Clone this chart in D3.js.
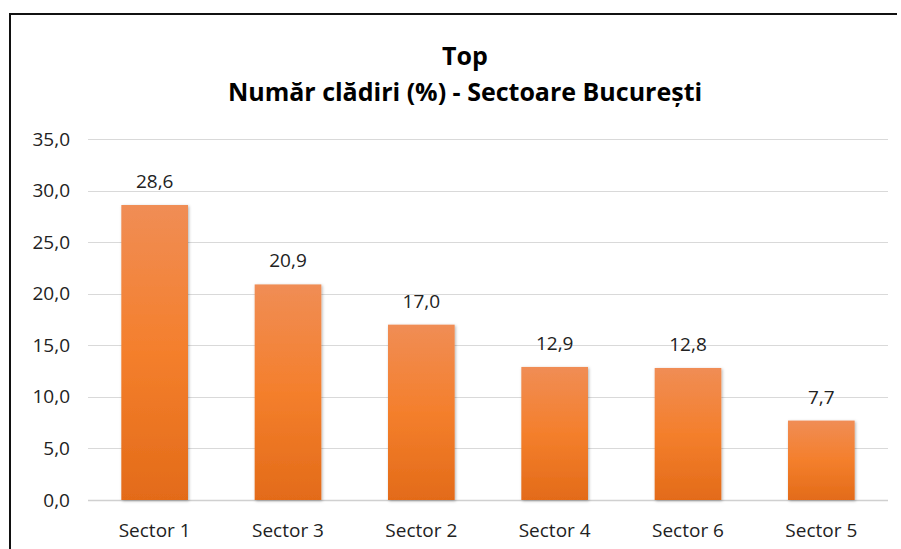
<!DOCTYPE html>
<html>
<head>
<meta charset="utf-8">
<script src="https://cdn.jsdelivr.net/npm/d3@7"></script>
<style>
  body { margin: 0; background: #fff; }
  svg { display: block; font-family: "Open Sans", "Noto Sans", sans-serif; }
</style>
</head>
<body>
<svg id="chart"></svg>
<script>
// data
const sectors = ["Sector 1", "Sector 3", "Sector 2", "Sector 4", "Sector 6", "Sector 5"];
const values = [28.6, 20.9, 17.0, 12.9, 12.8, 7.7];
const yTicks = [0, 5, 10, 15, 20, 25, 30, 35];
const titleLines = ["Top", "Număr clădiri (%) - Sectoare București"];

const width = 901, height = 549;
const margin = {top: 139, right: 13, bottom: 49, left: 88};
const labelSize = 19;

const svg = d3.select("#chart")
    .attr("width", width)
    .attr("height", height);

// gradient for bars
const defs = svg.append("defs");
const grad = defs.append("linearGradient")
    .attr("id", "barGrad")
    .attr("x1", 0).attr("y1", 0).attr("x2", 0).attr("y2", 1);
grad.append("stop").attr("offset", "0%").attr("stop-color", "#f08d55");
grad.append("stop").attr("offset", "50%").attr("stop-color", "#f47f2c");
grad.append("stop").attr("offset", "100%").attr("stop-color", "#e36b19");

const shadow = defs.append("filter").attr("id", "shadow")
    .attr("x", "-20%").attr("y", "-20%").attr("width", "140%").attr("height", "140%");
shadow.append("feDropShadow")
    .attr("dx", 1).attr("dy", 1).attr("stdDeviation", 1.5)
    .attr("flood-color", "#000").attr("flood-opacity", 0.3);

// frame
svg.append("path")
    .attr("d", `M10,${height} L10,14 L897,14`)
    .attr("fill", "none")
    .attr("stroke", "#111")
    .attr("stroke-width", 2);

// scales
const x = d3.scaleBand()
    .domain(sectors)
    .range([margin.left, width - margin.right])
    .paddingInner(0.5)
    .paddingOuter(0.25);

const y = d3.scaleLinear()
    .domain([0, 35])
    .range([height - margin.bottom, margin.top]);

const fmt = v => d3.format(".1f")(v).replace(".", ",");

// gridlines
svg.append("g")
    .selectAll("line")
    .data(yTicks)
    .join("line")
    .attr("x1", margin.left)
    .attr("x2", width - margin.right)
    .attr("y1", d => Math.round(y(d)) + 0.5)
    .attr("y2", d => Math.round(y(d)) + 0.5)
    .attr("stroke", d => d === 0 ? "#d0d0d0" : "#d9d9d9")
    .attr("stroke-width", d => d === 0 ? 1.5 : 1);

// y axis labels
const yAxis = svg.append("g")
    .attr("transform", `translate(${margin.left - 18},0)`)
    .call(d3.axisLeft(y).tickValues(yTicks).tickFormat(fmt).tickSize(0).tickPadding(0));
yAxis.select(".domain").remove();
yAxis.selectAll("text")
    .attr("font-family", "Open Sans, sans-serif")
    .attr("font-size", labelSize)
    .attr("fill", "#222");

// bars
svg.append("g")
    .selectAll("rect")
    .data(values)
    .join("rect")
    .attr("x", (d, i) => x(sectors[i]))
    .attr("y", d => y(d))
    .attr("width", x.bandwidth())
    .attr("height", d => y(0) - y(d))
    .attr("fill", "url(#barGrad)")
    .attr("filter", "url(#shadow)");

// value labels
svg.append("g")
    .selectAll("text")
    .data(values)
    .join("text")
    .attr("x", (d, i) => x(sectors[i]) + x.bandwidth() / 2)
    .attr("y", d => y(d) - 17)
    .attr("text-anchor", "middle")
    .attr("font-size", labelSize)
    .attr("fill", "#222")
    .text(fmt);

// x axis labels
const xAxis = svg.append("g")
    .attr("transform", `translate(0,${y(0) + 37})`)
    .call(d3.axisBottom(x).tickSize(0).tickPadding(0));
xAxis.select(".domain").remove();
xAxis.selectAll("text")
    .attr("font-family", "Open Sans, sans-serif")
    .attr("font-size", labelSize)
    .attr("fill", "#222")
    .attr("dy", 0);

// title
svg.append("g")
    .selectAll("text")
    .data(titleLines)
    .join("text")
    .attr("x", 465)
    .attr("y", (d, i) => 65 + i * 36)
    .attr("text-anchor", "middle")
    .attr("font-size", 25)
    .attr("font-weight", "bold")
    .attr("fill", "#000")
    .text(d => d);
</script>
</body>
</html>
